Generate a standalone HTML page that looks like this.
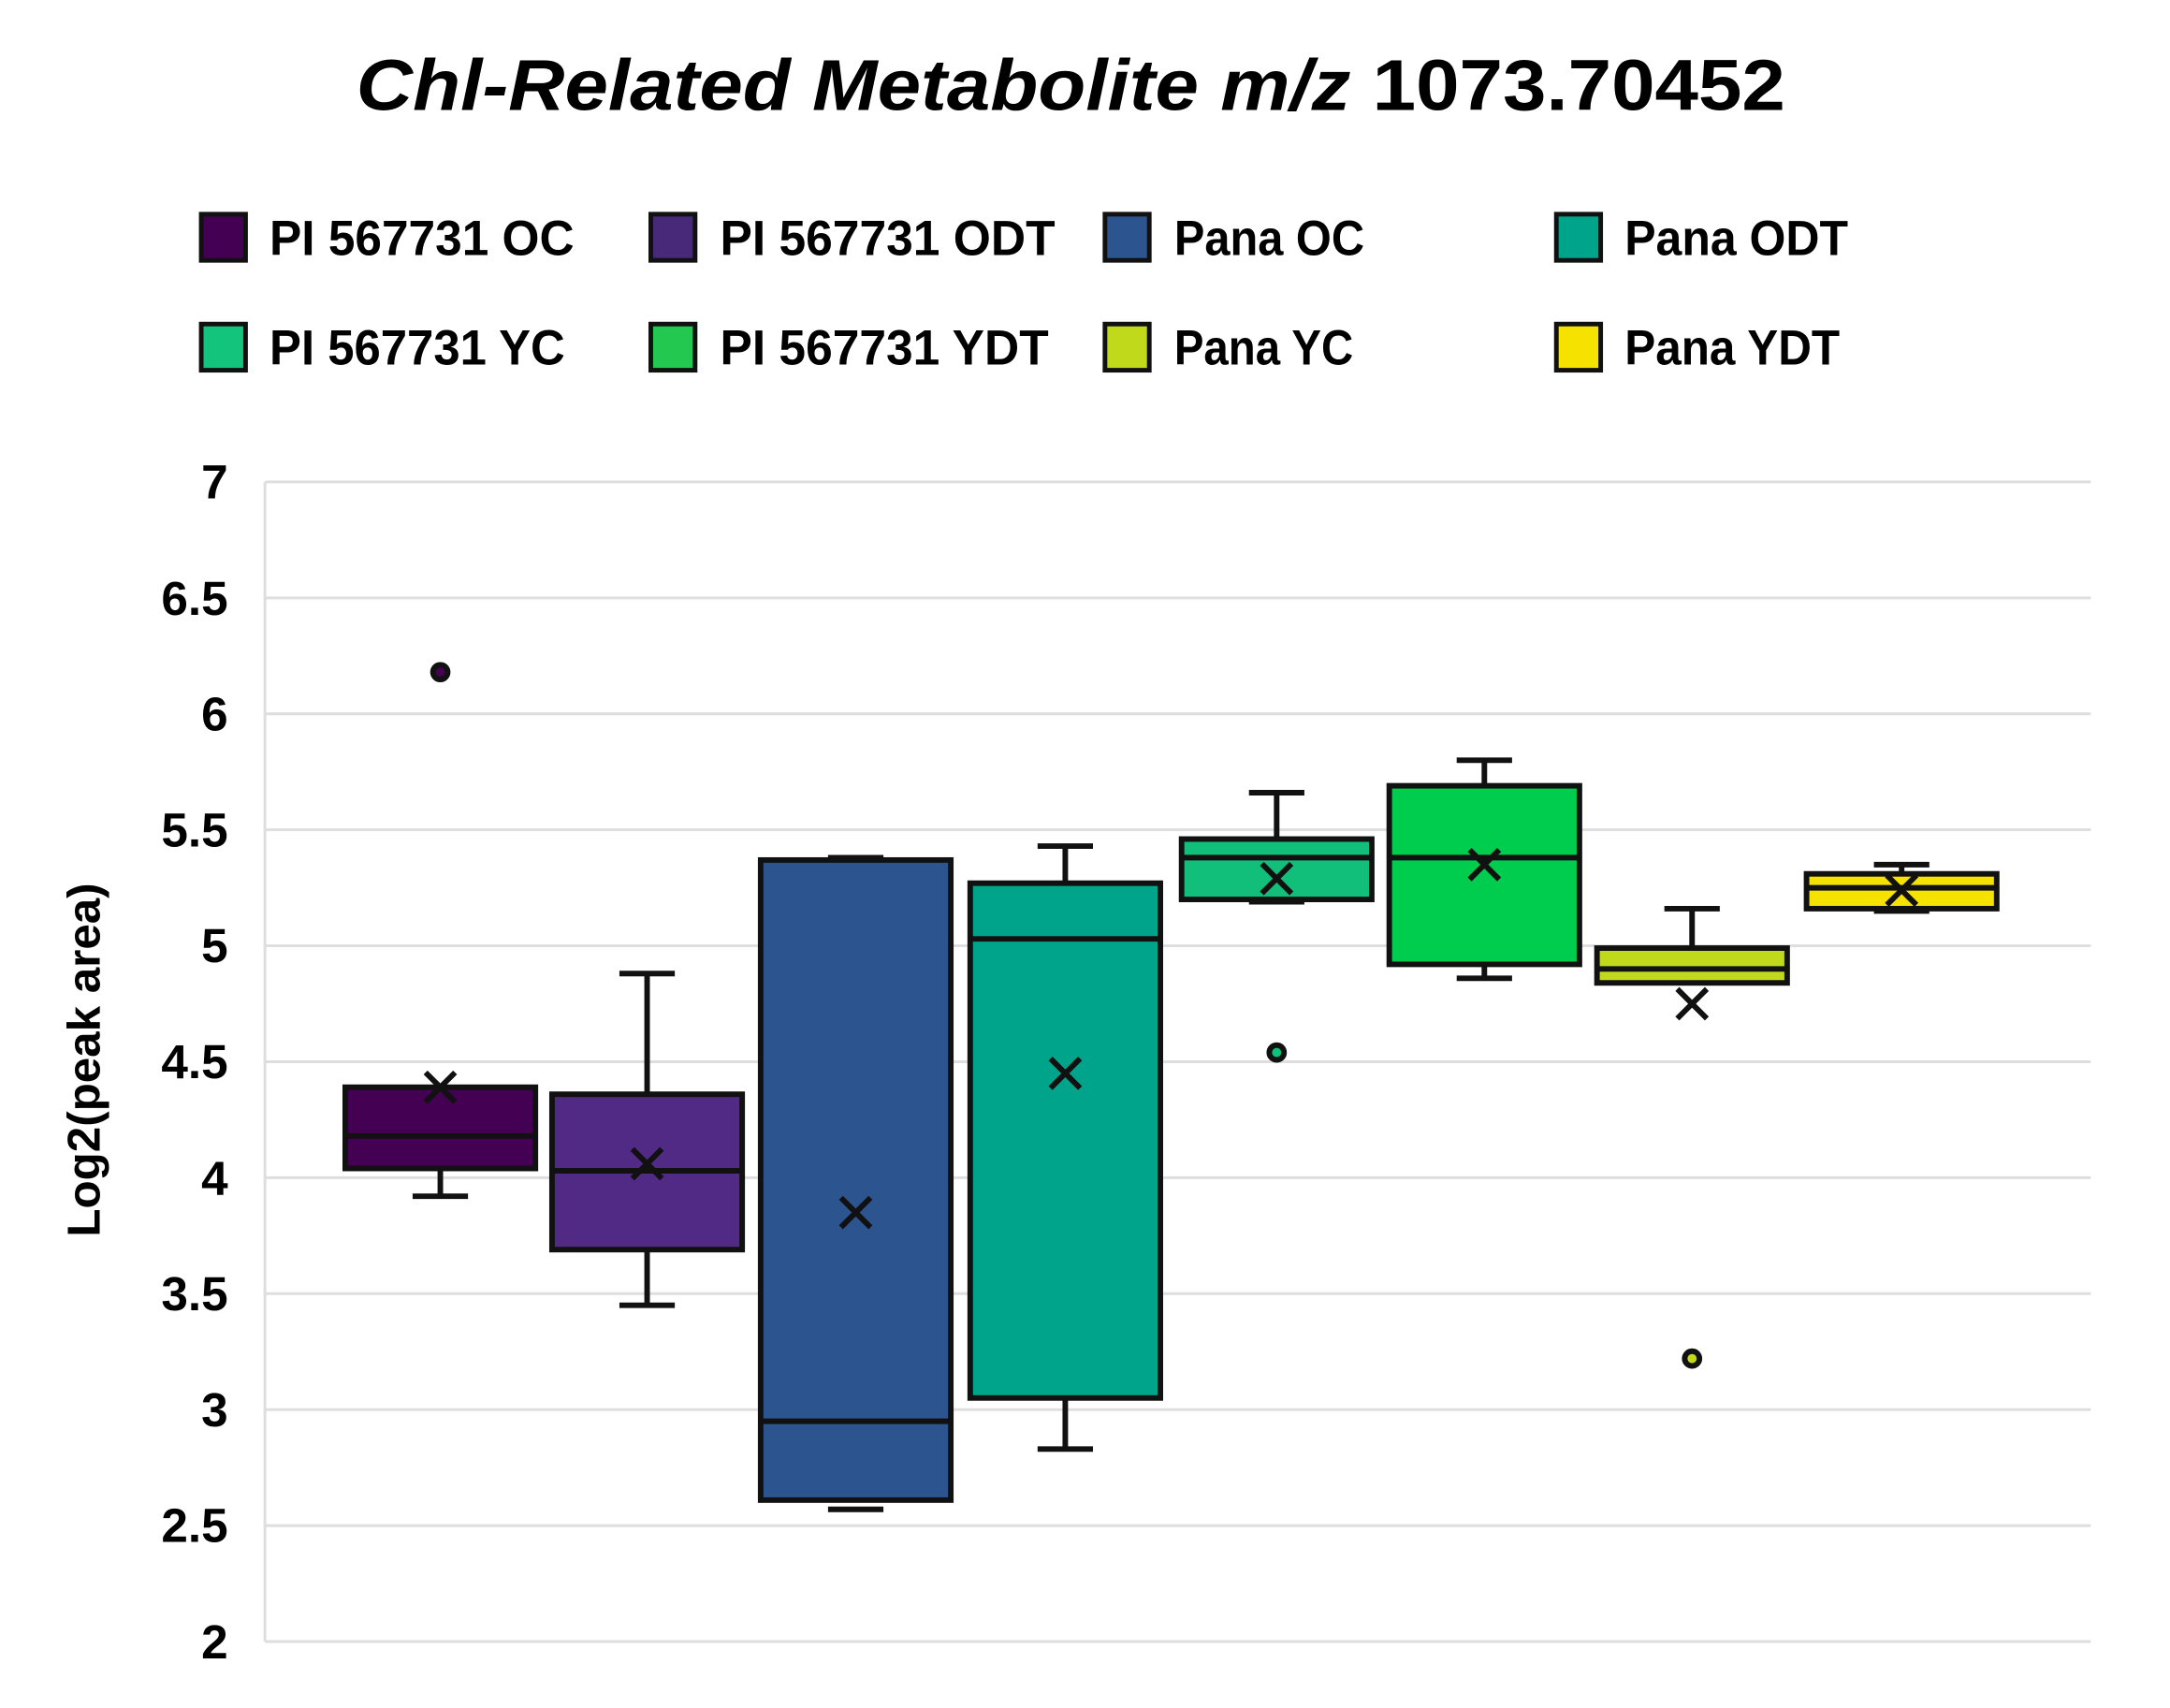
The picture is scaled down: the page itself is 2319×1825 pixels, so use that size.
<!DOCTYPE html>
<html><head><meta charset="utf-8"><style>
html,body{margin:0;padding:0;background:#fff;}
svg{display:block;}
text{font-family:"Liberation Sans","DejaVu Sans",sans-serif;font-weight:bold;fill:#000;}
</style></head><body>
<svg width="2319" height="1825" viewBox="0 0 2319 1825" xmlns="http://www.w3.org/2000/svg">
<g transform="scale(0.9865)">
<text x="1160" y="119" font-size="78" text-anchor="middle" textLength="1548" lengthAdjust="spacingAndGlyphs"><tspan font-style="italic">Chl-Related Metabolite m/z</tspan> 1073.70452</text>
<g stroke="#111" stroke-width="5">
<rect x="218" y="232" width="48" height="50" fill="#440154"/>
<rect x="705" y="232" width="48" height="50" fill="#482878"/>
<rect x="1197" y="232" width="48" height="50" fill="#2c5590"/>
<rect x="1686" y="232" width="48" height="50" fill="#00a48a"/>
<rect x="218" y="351" width="48" height="50" fill="#12c47c"/>
<rect x="705" y="351" width="48" height="50" fill="#22c850"/>
<rect x="1197" y="351" width="48" height="50" fill="#c0d91a"/>
<rect x="1686" y="351" width="48" height="50" fill="#f5e200"/>
</g>
<g font-size="54">
<text x="292" y="276" textLength="330" lengthAdjust="spacingAndGlyphs">PI 567731 OC</text>
<text x="780" y="276" textLength="363" lengthAdjust="spacingAndGlyphs">PI 567731 ODT</text>
<text x="1272" y="276" textLength="206" lengthAdjust="spacingAndGlyphs">Pana OC</text>
<text x="1760" y="276" textLength="242" lengthAdjust="spacingAndGlyphs">Pana ODT</text>
<text x="292" y="395" textLength="320" lengthAdjust="spacingAndGlyphs">PI 567731 YC</text>
<text x="780" y="395" textLength="356" lengthAdjust="spacingAndGlyphs">PI 567731 YDT</text>
<text x="1272" y="395" textLength="194" lengthAdjust="spacingAndGlyphs">Pana YC</text>
<text x="1760" y="395" textLength="233" lengthAdjust="spacingAndGlyphs">Pana YDT</text>
</g>
<g stroke="#dedede" stroke-width="3">
<line x1="287" x2="2265" y1="1778" y2="1778"/><line x1="287" x2="2265" y1="1652.4" y2="1652.4"/>
<line x1="287" x2="2265" y1="1526.8" y2="1526.8"/><line x1="287" x2="2265" y1="1401.2" y2="1401.2"/>
<line x1="287" x2="2265" y1="1275.6" y2="1275.6"/><line x1="287" x2="2265" y1="1150" y2="1150"/>
<line x1="287" x2="2265" y1="1024.4" y2="1024.4"/><line x1="287" x2="2265" y1="898.8" y2="898.8"/>
<line x1="287" x2="2265" y1="773.2" y2="773.2"/><line x1="287" x2="2265" y1="647.6" y2="647.6"/>
<line x1="287" x2="2265" y1="522" y2="522"/><line x1="287" x2="287" y1="522" y2="1778"/>
</g>
<g font-size="52" text-anchor="end">
<text x="247" y="1796">2</text><text x="247" y="1670">2.5</text><text x="247" y="1545">3</text>
<text x="247" y="1419">3.5</text><text x="247" y="1294">4</text><text x="247" y="1168">4.5</text>
<text x="247" y="1042">5</text><text x="247" y="917">5.5</text><text x="247" y="791">6</text>
<text x="247" y="666">6.5</text><text x="247" y="540">7</text>
</g>
<text transform="translate(108,1148) rotate(-90)" font-size="50" text-anchor="middle">Log2(peak area)</text>
<g stroke="#111" stroke-width="6" fill="none">
<path d="M477 1265.6V1295.7M447 1295.7H507"/>
<rect x="374" y="1177.6" width="206" height="88" fill="#440154"/>
<path d="M374 1230.4H580M461 1161.6l32 32M493 1161.6l-32 32"/>
<circle cx="477" cy="728" r="8" fill="#440154"/>
<path d="M701 1185.2V1054.5M671 1054.5H731M701 1353.5V1413.8M671 1413.8H731"/>
<rect x="598" y="1185.2" width="206" height="168.3" fill="#512a85"/>
<path d="M598 1268.1H804M685 1244.5l32 32M717 1244.5l-32 32"/>
<path d="M897 929H957M897 1634.8H957"/>
<rect x="824" y="931.5" width="206" height="693.3" fill="#2c5590"/>
<path d="M824 1539.4H1030M911 1297.3l32 32M943 1297.3l-32 32"/>
<path d="M1154 956.6V916.4M1124 916.4H1184M1154 1514.2V1569.5M1124 1569.5H1184"/>
<rect x="1051" y="956.6" width="206" height="557.6" fill="#00a48a"/>
<path d="M1051 1016.9H1257M1138 1146.6l32 32M1170 1146.6l-32 32"/>
<path d="M1383 908.8V858.6M1353 858.6H1413M1353 976.7H1413"/>
<rect x="1280" y="908.8" width="206" height="65.4" fill="#12bf7a"/>
<path d="M1280 928.9H1486M1367 935.6l32 32M1399 935.6l-32 32"/>
<circle cx="1383" cy="1140" r="8" fill="#12bf7a"/>
<path d="M1608 851.1V823.4M1578 823.4H1638M1608 1044.5V1059.6M1578 1059.6H1638"/>
<rect x="1505" y="851.1" width="206" height="193.4" fill="#00cc4e"/>
<path d="M1505 928.9H1711M1592 920.5l32 32M1624 920.5l-32 32"/>
<path d="M1833 1026.9V984.2M1803 984.2H1863"/>
<rect x="1730" y="1026.9" width="206" height="37.7" fill="#c0d91a"/>
<path d="M1730 1049.5H1936M1817 1071.2l32 32M1849 1071.2l-32 32"/>
<circle cx="1833" cy="1471.5" r="8" fill="#c0d91a"/>
<path d="M2060 946.5V936.5M2030 936.5H2090M2030 986.7H2090"/>
<rect x="1957" y="946.5" width="206" height="37.7" fill="#f5e200"/>
<path d="M1957 961.6H2163M2044 948.1l32 32M2076 948.1l-32 32"/>
</g>
</g>
</svg>
</body></html>
